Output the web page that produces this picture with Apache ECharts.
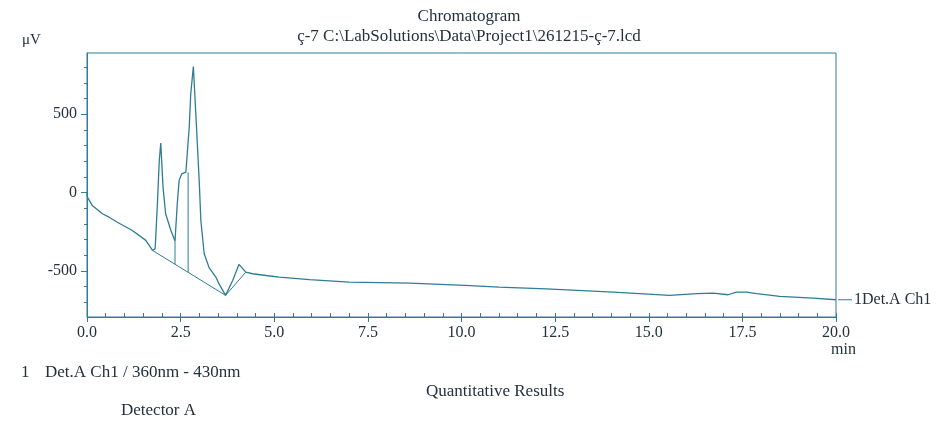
<!DOCTYPE html>
<html>
<head>
<meta charset="utf-8">
<title>Chromatogram</title>
<script src="https://cdn.jsdelivr.net/npm/echarts@6/dist/echarts.min.js"></script>
<style>
  html, body { margin: 0; padding: 0; background: #fff; }
  #main { width: 944px; height: 423px; }
</style>
</head>
<body>
<div id="main"></div>
<script>
// retention time (min) and detector signal (uV)
const timeMin = [0, 0.01, 0.14, 0.41, 0.59, 0.81, 1.21, 1.57, 1.75, 1.82, 1.88, 1.93, 1.97, 2.03, 2.10, 2.24, 2.35,
  2.41, 2.46, 2.53, 2.64, 2.68, 2.73, 2.77, 2.84, 2.91, 3.00, 3.04, 3.13, 3.26, 3.44, 3.53, 3.70, 3.89, 4.06, 4.24,
  4.42, 4.78, 5.13, 5.94, 7.0, 8.61, 10.1, 11.0, 12.26, 14.05, 15.56, 16.28, 16.72, 17.12, 17.34, 17.61, 17.88,
  18.5, 19.39, 20];
const signal = [0, -30, -83, -136, -158, -190, -243, -306, -370, -359, -72, 204, 315, 34, -136, -243, -310,
  -72, 77, 119, 130, 125, 417, 630, 804, 481, 56, -179, -391, -480, -540, -585, -657, -562, -459, -509,
  -519, -530, -540, -557, -572, -579, -593, -604, -615, -636, -657, -646, -643, -653, -636, -636, -646,
  -664, -675, -685];

// integration baseline
const baseTime = [1.75, 3.70, 4.24];
const baseSignal = [-370, -657, -509];

// perpendicular drop lines between peaks
const dropTime = [2.35, 2.70];
const dropTop = [-310, 128];
const dropBottom = [-458, -510];

const xTicks = [0, 2.5, 5, 7.5, 10, 12.5, 15, 17.5, 20];
const yLabels = [-500, 0, 500];
const yMinor = [-700, -600, -500, -400, -300, -200, -100, 0, 100, 200, 300, 400, 500, 600, 700, 800];

const lineColor = '#2e7d94';
const textColor = '#22313b';
const font = 'Liberation Serif';

let chart = echarts.init(document.getElementById('main'));

let dropSeries = dropTime.map(function (t, i) {
  return {
    type: 'line',
    data: [[t, dropTop[i]], [t, dropBottom[i]]],
    symbol: 'none',
    lineStyle: {color: lineColor, width: 1},
    silent: true
  };
});

function txt(size) {
  return {fontFamily: font, fontSize: size, fontWeight: 'normal', color: textColor};
}

chart.setOption({
  backgroundColor: '#fff',
  animation: false,
  textStyle: {fontFamily: font, color: textColor},
  title: [
    {text: 'Chromatogram\nç-7 C:\\LabSolutions\\Data\\Project1\\261215-ç-7.lcd', left: 464, top: 2, textAlign: 'center',
      textStyle: Object.assign(txt(17), {lineHeight: 20})},
    {text: 'μV', left: 17, top: 28, textStyle: txt(15)},
    {text: 'min', left: 826, top: 337, textStyle: txt(16)},
    {text: '1', left: 16, top: 359, textStyle: txt(17)},
    {text: 'Det.A Ch1 / 360nm - 430nm', left: 40, top: 359, textStyle: txt(17)},
    {text: 'Quantitative Results', left: 421, top: 378, textStyle: txt(17)},
    {text: 'Detector A', left: 116, top: 397, textStyle: txt(17)}
  ],
  grid: {
    left: 87, right: 108, top: 53, bottom: 106,
    show: true, borderColor: lineColor, borderWidth: 1, backgroundColor: 'transparent'
  },
  xAxis: [{
    type: 'value', min: 0, max: 20, interval: 2.5,
    axisLine: {onZero: false, lineStyle: {color: lineColor}},
    axisTick: {show: true, length: 5, lineStyle: {color: lineColor}},
    axisLabel: {margin: 8, fontFamily: font, fontSize: 16, color: textColor,
      customValues: xTicks, formatter: function (v) { return v.toFixed(1); }},
    splitLine: {show: false}
  }, {
    type: 'value', min: 0, max: 20, interval: 0.5, position: 'bottom',
    axisLine: {show: false, onZero: false},
    axisTick: {show: true, inside: true, length: 4, lineStyle: {color: lineColor}},
    axisLabel: {show: false},
    splitLine: {show: false}
  }],
  yAxis: [{
    type: 'value', min: -795, max: 890,
    axisLine: {show: true, onZero: false, lineStyle: {color: lineColor}},
    axisTick: {show: true, length: 6, customValues: yLabels, lineStyle: {color: lineColor}},
    axisLabel: {margin: 10, fontFamily: font, fontSize: 16, color: textColor, customValues: yLabels},
    splitLine: {show: false}
  }, {
    type: 'value', min: -795, max: 890, position: 'left',
    axisLine: {show: false, onZero: false},
    axisTick: {show: true, length: 3, customValues: yMinor, lineStyle: {color: lineColor}},
    axisLabel: {show: false},
    splitLine: {show: false}
  }],
  series: [{
    name: '1Det.A Ch1',
    type: 'line',
    data: timeMin.map(function (t, i) { return [t, signal[i]]; }),
    symbol: 'none',
    lineStyle: {color: lineColor, width: 1.3},
    endLabel: {
      show: true, distance: 2,
      formatter: '{l|}{t|1Det.A Ch1}',
      rich: {
        l: {width: 14, height: 1, backgroundColor: lineColor},
        t: {fontFamily: font, fontSize: 16, color: textColor, padding: [0, 0, 0, 2]}
      }
    }
  }, {
    type: 'line',
    data: baseTime.map(function (t, i) { return [t, baseSignal[i]]; }),
    symbol: 'none',
    lineStyle: {color: lineColor, width: 1},
    silent: true
  }].concat(dropSeries)
});
</script>
</body>
</html>
